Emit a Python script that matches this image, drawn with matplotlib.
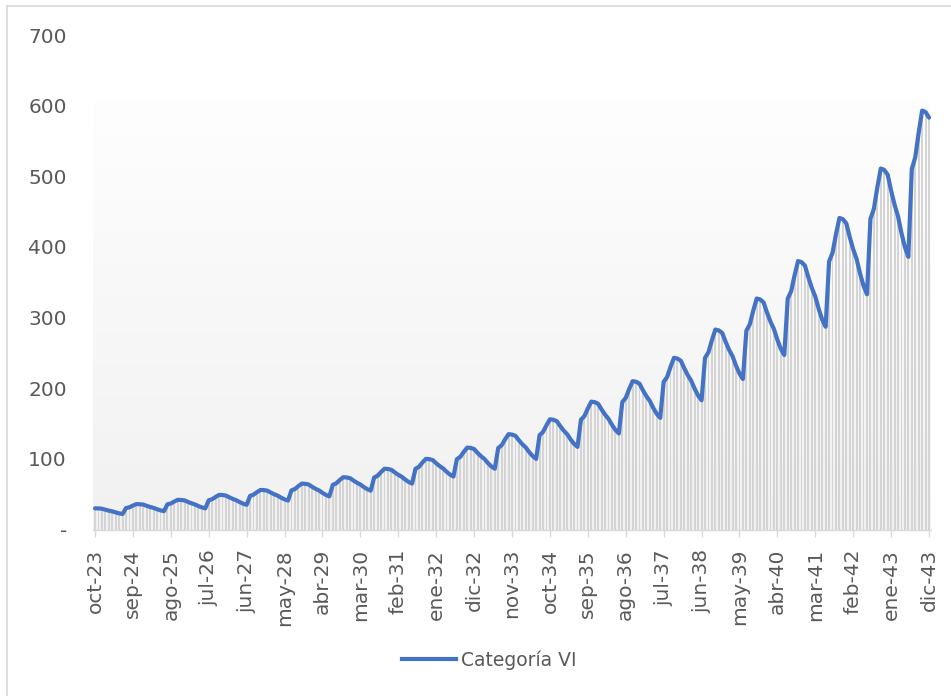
import numpy as np
import matplotlib
matplotlib.use('Agg')
import matplotlib.pyplot as plt
from matplotlib.lines import Line2D
from matplotlib.colors import LinearSegmentedColormap

MESES = ['ene', 'feb', 'mar', 'abr', 'may', 'jun',
         'jul', 'ago', 'sep', 'oct', 'nov', 'dic']

# serie mensual oct-23 .. dic-43
VALORES_2023_24 = [30.0, 29.9, 29.4, 28.0, 26.7, 25.7, 24.2, 22.9, 22.0]
VALORES_2024_25 = [30.4, 31.5, 33.9, 36.0, 35.8, 35.3, 33.5, 31.9, 30.6, 28.7, 27.1, 26.0]
VALORES_2025_26 = [35.6, 36.9, 39.6, 42.0, 41.8, 41.2, 39.0, 37.1, 35.5, 33.2, 31.3, 30.0]
VALORES_2026_27 = [41.4, 42.9, 46.2, 49.0, 48.8, 48.0, 45.5, 43.3, 41.4, 38.8, 36.5, 35.0]
VALORES_2027_28 = [47.6, 49.3, 52.9, 56.0, 55.8, 55.0, 52.3, 49.9, 47.9, 45.1, 42.7, 41.0]
VALORES_2028_29 = [55.4, 57.3, 61.4, 65.0, 64.7, 63.7, 60.5, 57.6, 55.3, 51.9, 49.0, 47.0]
VALORES_2029_30 = [63.2, 65.4, 70.0, 74.0, 73.7, 72.7, 69.3, 66.2, 63.7, 60.1, 57.1, 55.0]
VALORES_2030_31 = [73.6, 76.1, 81.4, 86.0, 85.7, 84.5, 80.8, 77.4, 74.7, 70.7, 67.3, 65.0]
VALORES_2031_32 = [86.0, 88.8, 94.8, 100.0, 99.6, 98.3, 93.8, 89.8, 86.5, 81.8, 77.8, 75.0]
VALORES_2032_33 = [99.6, 102.9, 109.9, 116.0, 115.5, 113.9, 108.5, 103.7, 99.8, 94.1, 89.3, 86.0]
VALORES_2033_34 = [115.4, 119.3, 127.7, 135.0, 134.4, 132.6, 126.3, 120.7, 116.1, 109.5, 103.9, 100.0]
VALORES_2034_35 = [133.6, 138.1, 147.6, 156.0, 155.4, 153.3, 146.3, 140.0, 134.9, 127.5, 121.3, 117.0]
VALORES_2035_36 = [155.4, 160.5, 171.4, 181.0, 180.3, 177.9, 169.8, 162.6, 156.7, 148.2, 141.0, 136.0]
VALORES_2036_37 = [180.4, 186.3, 198.9, 210.0, 209.2, 206.4, 197.0, 188.7, 181.9, 172.0, 163.7, 158.0]
VALORES_2037_38 = [209.0, 215.8, 230.3, 243.0, 242.0, 238.8, 228.0, 218.4, 210.6, 199.2, 189.6, 183.0]
VALORES_2038_39 = [243.0, 251.0, 268.0, 283.0, 281.9, 278.1, 265.5, 254.3, 245.2, 231.9, 220.7, 213.0]
VALORES_2039_40 = [281.4, 290.5, 309.9, 327.0, 325.7, 321.4, 307.0, 294.2, 283.8, 268.6, 255.8, 247.0]
VALORES_2040_41 = [326.8, 337.4, 360.1, 380.0, 378.5, 373.5, 356.8, 341.9, 329.8, 312.1, 297.2, 287.0]
VALORES_2041_42 = [379.4, 391.7, 417.9, 441.0, 439.3, 433.4, 414.0, 396.7, 382.7, 362.2, 344.9, 333.0]
VALORES_2042_43 = [439.8, 454.0, 484.3, 511.0, 509.0, 502.3, 479.8, 459.8, 443.5, 419.8, 399.8, 386.0]
VALORES_2043 = [510.2, 526.8, 561.9, 593.0, 591.0, 583.0]

valores = (VALORES_2023_24 + VALORES_2024_25 + VALORES_2025_26 + VALORES_2026_27
           + VALORES_2027_28 + VALORES_2028_29 + VALORES_2029_30 + VALORES_2030_31
           + VALORES_2031_32 + VALORES_2032_33 + VALORES_2033_34 + VALORES_2034_35
           + VALORES_2035_36 + VALORES_2036_37 + VALORES_2037_38 + VALORES_2038_39
           + VALORES_2039_40 + VALORES_2040_41 + VALORES_2041_42 + VALORES_2042_43
           + VALORES_2043)

# etiquetas mes-año desde oct-23
etiquetas = []
for i in range(len(valores)):
    m = (9 + i) % 12
    a = 23 + (9 + i) // 12
    etiquetas.append('%s-%02d' % (MESES[m], a))

Y_TICKS = [0, 100, 200, 300, 400, 500, 600, 700]
Y_LABELS = ['-', '100', '200', '300', '400', '500', '600', '700']

x = np.arange(len(valores))

fig = plt.figure(figsize=(9.51, 6.96), dpi=100)
ax = fig.add_axes([0.0981, 0.2392, 0.8806, 0.7105])

# fondo degradado del area de trazado
grad = LinearSegmentedColormap.from_list('g', ['#f1f1f1', '#fefefe'])
ax.imshow(np.linspace(0, 1, 256).reshape(-1, 1), cmap=grad, aspect='auto',
          origin='lower', extent=(-0.5, len(valores) - 0.5, 0, 608), zorder=0)

ax.bar(x, valores, width=0.55, color='#d4d4d4', zorder=1)
ax.plot(x, valores, color='#4472C4', lw=3.0, solid_joinstyle='round',
        solid_capstyle='round', zorder=3)

ax.set_xlim(-0.5, len(valores) - 0.5)
ax.set_ylim(0, 700)

ax.set_xticks(x[::11])
ax.set_xticklabels(etiquetas[::11], rotation=90, fontsize=14.5, color='#595959')
ax.set_yticks(Y_TICKS)
ax.set_yticklabels(Y_LABELS, fontsize=14.5, color='#595959')

ax.tick_params(axis='x', length=5, width=1, color='#d9d9d9', pad=9)
ax.tick_params(axis='y', length=0, pad=19)

for s in ['left', 'right', 'top']:
    ax.spines[s].set_visible(False)
ax.spines['bottom'].set_color('#d9d9d9')
ax.spines['bottom'].set_linewidth(1)

handle = Line2D([0], [0], color='#4472C4', lw=3.0)
fig.legend([handle], ['Categoría VI'], loc='center', bbox_to_anchor=(0.514, 0.052),
           frameon=False, fontsize=13.5, labelcolor='#595959',
           handlelength=2.9, handletextpad=0.25)

# borde exterior del grafico
fig.add_artist(Line2D([7 / 951, 7 / 951], [0, 1 - 6 / 696], color='#d9d9d9', lw=1.2))
fig.add_artist(Line2D([7 / 951, 1], [1 - 6 / 696, 1 - 6 / 696], color='#d9d9d9', lw=1.2))

fig.savefig('out.png', dpi=100)
